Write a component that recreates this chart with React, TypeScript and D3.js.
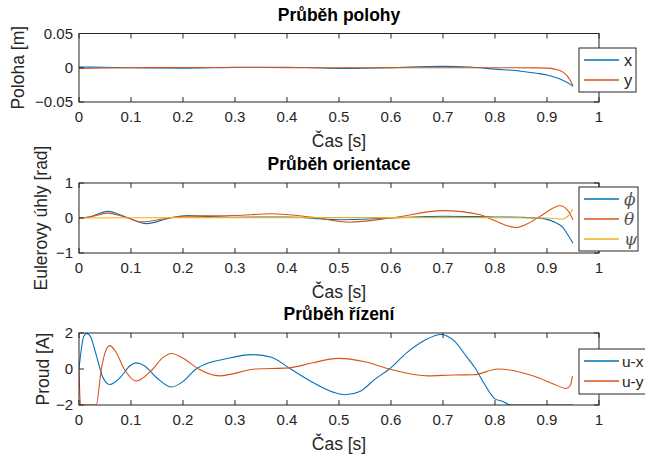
import * as d3 from "d3";

// --- data ---
const tPosX = [0, 0.05, 0.1, 0.2, 0.3, 0.4, 0.45, 0.5, 0.55, 0.6, 0.65, 0.7, 0.75, 0.8, 0.85, 0.88, 0.9, 0.92, 0.94, 0.95];
const posX = [0.001, 0.0008, 0, -0.0005, 0.0005, 0.0008, 0, -0.001, -0.0008, 0, 0.0015, 0.002, 0.001, -0.002, -0.005, -0.008, -0.0105, -0.015, -0.022, -0.027];
const tPosY = [0, 0.1, 0.2, 0.3, 0.4, 0.5, 0.6, 0.7, 0.8, 0.88, 0.9, 0.915, 0.93, 0.94, 0.95];
const posY = [-0.001, 0, 0.0003, 0.0003, 0.0002, 0, 0.0002, 0, 0, -0.0002, -0.0005, -0.002, -0.006, -0.013, -0.026];

const tPhi = [0, 0.02, 0.055, 0.09, 0.13, 0.17, 0.21, 0.25, 0.3, 0.4, 0.5, 0.6, 0.7, 0.8, 0.85, 0.88, 0.9, 0.915, 0.93, 0.94, 0.95];
const phi = [0, 0.03, 0.19, 0.03, -0.16, -0.02, 0.07, 0.04, 0.02, 0.03, -0.05, 0, 0.05, 0.03, 0.02, 0, -0.04, -0.12, -0.26, -0.48, -0.72];
const tTheta = [0, 0.02, 0.055, 0.09, 0.12, 0.16, 0.2, 0.3, 0.37, 0.45, 0.52, 0.6, 0.7, 0.77, 0.8, 0.84, 0.86, 0.89, 0.925, 0.94, 0.95];
const theta = [0, 0.03, 0.14, 0.02, -0.11, -0.03, 0.05, 0.07, 0.12, 0.02, -0.12, 0, 0.21, 0.1, -0.08, -0.27, -0.18, 0.08, 0.35, 0.22, -0.05];
const tPsi = [0, 0.2, 0.4, 0.6, 0.8, 0.9, 0.93, 0.94, 0.95];
const psi = [0, 0.01, 0.01, 0.01, 0.01, 0, -0.03, 0.05, 0.25];

const tUx = [0, 0.004, 0.009, 0.015, 0.022, 0.032, 0.045, 0.059, 0.08, 0.097, 0.11, 0.125, 0.15, 0.178, 0.2, 0.225, 0.25, 0.277, 0.332, 0.37, 0.407, 0.45, 0.49, 0.512, 0.54, 0.57, 0.597, 0.63, 0.665, 0.696, 0.72, 0.745, 0.763, 0.78, 0.8, 0.815, 0.83, 0.95];
const uX = [0, 1.0, 1.8, 1.98, 1.8, 0.9, -0.4, -0.86, -0.45, 0.15, 0.34, 0.2, -0.5, -1.0, -0.7, 0, 0.35, 0.53, 0.8, 0.65, 0, -0.75, -1.3, -1.43, -1.25, -0.55, 0, 0.9, 1.6, 1.92, 1.6, 0.7, 0, -0.85, -1.66, -1.8, -2, -2];
const tUy = [0, 0.003, 0.018, 0.033, 0.043, 0.05, 0.059, 0.07, 0.087, 0.11, 0.142, 0.16, 0.178, 0.2, 0.23, 0.27, 0.34, 0.403, 0.45, 0.498, 0.55, 0.597, 0.672, 0.72, 0.759, 0.806, 0.877, 0.91, 0.937, 0.945, 0.949];
const uY = [0, -2, -2, -2, 0, 0.9, 1.3, 1.0, 0, -0.67, 0, 0.6, 0.86, 0.6, 0, -0.38, 0, 0.06, 0.35, 0.59, 0.4, 0, -0.38, -0.33, -0.32, 0, -0.42, -0.8, -1.08, -0.9, -0.38];

const xTicks = [0, 0.1, 0.2, 0.3, 0.4, 0.5, 0.6, 0.7, 0.8, 0.9, 1];

const BLUE = "#0072BD";
const ORANGE = "#D95319";
const YELLOW = "#EDB120";
const INK = "#262626";
const FONT = "'Liberation Sans', Arial, Helvetica, sans-serif";

type Series = { t: number[]; v: number[]; color: string; label: string; math?: boolean };

type PanelProps = {
  top: number;
  bottom: number;
  title: string;
  ylabel: string;
  ylabelX: number;
  yDomain: [number, number];
  yTicks: number[];
  series: Series[];
  legend: { top: number; bottom: number; right: number; rows: number[]; textX?: number; fontSize?: number };
  id: string;
};

const LEFT = 79;
const RIGHT = 599;
const fmt = d3.format("~g");

function Panel(p: PanelProps) {
  const x = d3.scaleLinear().domain([0, 1]).range([LEFT, RIGHT]);
  const y = d3.scaleLinear().domain(p.yDomain).range([p.bottom, p.top]);
  const line = d3
    .line<[number, number]>()
    .x(d => x(d[0]))
    .y(d => y(d[1]))
    .curve(d3.curveMonotoneX);
  const tick = 5;
  const legLeft = 579;
  return (
    <g>
      <defs>
        <clipPath id={p.id}>
          <rect x={LEFT} y={p.top} width={RIGHT - LEFT} height={p.bottom - p.top} />
        </clipPath>
      </defs>
      <rect x={LEFT} y={p.top} width={RIGHT - LEFT} height={p.bottom - p.top} fill="#fff" />
      <g clipPath={`url(#${p.id})`}>
        {p.series.map(s => (
          <path
            key={s.label}
            d={line(s.t.map((t, i) => [t, s.v[i]] as [number, number])) || ""}
            fill="none"
            stroke={s.color}
            strokeWidth={1.1}
          />
        ))}
      </g>
      {/* box + ticks */}
      <rect x={LEFT} y={p.top} width={RIGHT - LEFT} height={p.bottom - p.top} fill="none" stroke={INK} strokeWidth={1} />
      {xTicks.map(t => (
        <g key={t}>
          <line x1={x(t)} x2={x(t)} y1={p.bottom} y2={p.bottom - tick} stroke={INK} />
          <line x1={x(t)} x2={x(t)} y1={p.top} y2={p.top + tick} stroke={INK} />
          <text x={x(t)} y={p.bottom + 20} textAnchor="middle" fontSize={15} fill={INK} fontFamily={FONT}>
            {fmt(t)}
          </text>
        </g>
      ))}
      {p.yTicks.map(v => (
        <g key={v}>
          <line x1={LEFT} x2={LEFT + tick} y1={y(v)} y2={y(v)} stroke={INK} />
          <line x1={RIGHT} x2={RIGHT - tick} y1={y(v)} y2={y(v)} stroke={INK} />
          <text x={LEFT - 6} y={y(v) + 5} textAnchor="end" fontSize={15} fill={INK} fontFamily={FONT}>
            {fmt(v)}
          </text>
        </g>
      ))}
      <text x={(LEFT + RIGHT) / 2} y={p.top - 13} textAnchor="middle" fontSize={17.5} fontWeight="bold" fill="#000" fontFamily={FONT}>
        {p.title}
      </text>
      <text x={(LEFT + RIGHT) / 2} y={p.bottom + 45} textAnchor="middle" fontSize={17.5} fill={INK} fontFamily={FONT}>
        Čas [s]
      </text>
      <text
        transform={`translate(${p.ylabelX},${(p.top + p.bottom) / 2}) rotate(-90)`}
        textAnchor="middle"
        fontSize={17.5}
        fill={INK}
        fontFamily={FONT}
      >
        {p.ylabel}
      </text>
      {/* legend */}
      <rect
        x={legLeft}
        y={p.legend.top}
        width={p.legend.right - legLeft}
        height={p.legend.bottom - p.legend.top}
        fill="#fff"
        stroke={INK}
        strokeWidth={1}
      />
      {p.series.map((s, i) => (
        <g key={s.label}>
          <line x1={legLeft + 5} x2={legLeft + 40} y1={p.legend.rows[i]} y2={p.legend.rows[i]} stroke={s.color} strokeWidth={1.3} />
          <text
            x={legLeft + (p.legend.textX ?? 45)}
            y={p.legend.rows[i] + 6}
            fontSize={p.legend.fontSize ?? (s.math ? 17 : 16.5)}
            fontStyle={s.math ? "italic" : "normal"}
            fill={s.math ? "#555" : INK}
            fontFamily={s.math ? "'DejaVu Serif', serif" : FONT}
          >
            {s.label}
          </text>
        </g>
      ))}
    </g>
  );
}

export default function App() {
  return (
    <svg width={645} height={456} style={{ position: "absolute", left: 0, top: 0, background: "#fff" }}>
      <rect width={645} height={456} fill="#fff" />
      <Panel
        id="c1"
        top={33.5}
        bottom={102}
        title="Průběh polohy"
        ylabel="Poloha [m]"
        ylabelX={24}
        yDomain={[-0.05, 0.05]}
        yTicks={[-0.05, 0, 0.05]}
        series={[
          { t: tPosX, v: posX, color: BLUE, label: "x" },
          { t: tPosY, v: posY, color: ORANGE, label: "y" },
        ]}
        legend={{ top: 48, bottom: 92, right: 636, rows: [60, 80] }}
      />
      <Panel
        id="c2"
        top={183}
        bottom={253}
        title="Průběh orientace"
        ylabel="Eulerovy úhly [rad]"
        ylabelX={47}
        yDomain={[-1, 1]}
        yTicks={[-1, 0, 1]}
        series={[
          { t: tPhi, v: phi, color: BLUE, label: "ϕ", math: true },
          { t: tTheta, v: theta, color: ORANGE, label: "θ", math: true },
          { t: tPsi, v: psi, color: YELLOW, label: "ψ", math: true },
        ]}
        legend={{ top: 187, bottom: 251, right: 638, rows: [199, 219, 239] }}
      />
      <Panel
        id="c3"
        top={333}
        bottom={405}
        title="Průběh řízení"
        ylabel="Proud [A]"
        ylabelX={49}
        yDomain={[-2, 2]}
        yTicks={[-2, 0, 2]}
        series={[
          { t: tUx, v: uX, color: BLUE, label: "u-x" },
          { t: tUy, v: uY, color: ORANGE, label: "u-y" },
        ]}
        legend={{ top: 349, bottom: 394, right: 650, rows: [361, 381], textX: 43, fontSize: 15.5 }}
      />
    </svg>
  );
}
